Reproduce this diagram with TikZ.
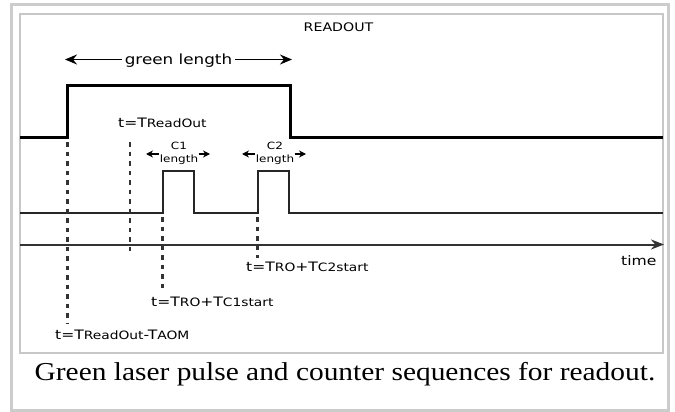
\documentclass[tikz,border=0pt]{standalone}
\usepackage{fontspec}
\setmainfont{Liberation Serif}
\newfontfamily\labfont[FakeStretch=1.2]{DejaVu Sans}
\newfontfamily\capfont[FakeStretch=1.14]{Liberation Serif}
\usetikzlibrary{arrows.meta}
\newcommand{\smtxt}[1]{{\fontsize{11.5}{12}\selectfont #1}}
\begin{document}
\begin{tikzpicture}[x=1pt,y=-1pt,
  outerframe/.style={draw=black!20, line width=3pt},
  innerframe/.style={draw=black!22, line width=2pt},
  laserline/.style={line width=3.8pt, line join=miter, draw=black},
  cntline/.style={line width=2pt, line join=miter, draw=black!85},
  axisline/.style={line width=2pt, draw=black!80, -{Stealth[length=13pt,width=10pt]}},
  guide/.style={draw=black!80, line width=2.2pt, dash pattern=on 4.5pt off 5pt},
  lab/.style={font=\labfont\fontsize{13}{14}\selectfont, inner sep=0pt, text=black},
  smalllab/.style={font=\labfont\fontsize{10}{11}\selectfont, inner sep=0pt, text=black},
  bigarrow/.style={line width=1.8pt, draw=black, -{Stealth[length=12pt,width=10pt]}},
  tinyarrow/.style={line width=1.5pt, draw=black, -{Stealth[length=7pt,width=7pt]}}
]
\useasboundingbox (0,0) rectangle (675,412);
% frames
\draw[outerframe] (11.5,4.5) rectangle (668.5,410.5);
\draw[innerframe] (20,14) rectangle (663,353);

% title
\node[lab, anchor=base, font=\labfont\fontsize{11.8}{12}\selectfont] (title) at (338.5,31.5) {READOUT};

% green laser pulse
\coordinate (gA) at (20,137.5);
\coordinate (gB) at (67.5,137.5);
\coordinate (gC) at (67.5,85.5);
\coordinate (gD) at (290.5,85.5);
\coordinate (gE) at (290.5,137.5);
\coordinate (gF) at (663,137.5);
\draw[laserline] (gA) -- (gB) -- (gC) -- (gD) -- (gE) -- (gF);

% green length
\node[lab, anchor=base, font=\labfont\fontsize{14}{15}\selectfont] (gl) at (178.5,64.5) {green length};
\coordinate (glL) at (65,59.5);
\coordinate (glR) at (292,59.5);
\draw[bigarrow] ([xshift=-3pt]gl.west |- glL) -- (glL);
\draw[bigarrow] ([xshift=3pt]gl.east |- glR) -- (glR);

% counter line
\coordinate (cA) at (20,213.3);
\coordinate (cB) at (162.5,213.3);
\coordinate (cC) at (162.5,171);
\coordinate (cD) at (193.5,171);
\coordinate (cE) at (193.5,213.3);
\coordinate (cF) at (257.5,213.3);
\coordinate (cG) at (257.5,171);
\coordinate (cH) at (288.5,171);
\coordinate (cI) at (288.5,213.3);
\coordinate (cJ) at (663,213.3);
\draw[cntline] (cA) -- (cB) -- (cC) -- (cD) -- (cE) -- (cF) -- (cG) -- (cH) -- (cI) -- (cJ);

% C1 / C2 length labels
\node[smalllab, anchor=base] (c1) at (179,149) {C1};
\node[smalllab, anchor=base] (c1l) at (179,162) {length};
\coordinate (c1L) at (146,154);
\coordinate (c1R) at (210,154);
\draw[tinyarrow] ([xshift=-0.5pt]c1l.west |- c1L) -- (c1L);
\draw[tinyarrow] ([xshift=0.5pt]c1l.east |- c1R) -- (c1R);
\node[smalllab, anchor=base] (c2) at (275,149) {C2};
\node[smalllab, anchor=base] (c2l) at (275,162) {length};
\coordinate (c2L) at (242,154);
\coordinate (c2R) at (306,154);
\draw[tinyarrow] ([xshift=-0.5pt]c2l.west |- c2L) -- (c2L);
\draw[tinyarrow] ([xshift=0.5pt]c2l.east |- c2R) -- (c2R);

% time axis
\coordinate (tA) at (20,244.5);
\coordinate (tB) at (664,244.5);
\draw[axisline] (tA) -- (tB);
\node[lab, anchor=base west] (time) at (621,265) {time};

% dashed guides
\coordinate (d1t) at (67.5,142);
\coordinate (d1b) at (67.5,323);
\coordinate (d2t) at (130,142);
\coordinate (d2b) at (130,252);
\coordinate (d3t) at (162.5,217);
\coordinate (d3b) at (162.5,293);
\coordinate (d4t) at (257.5,217);
\coordinate (d4b) at (257.5,258);
\draw[guide] (d1t) -- (d1b);
\draw[guide] (d2t) -- (d2b);
\draw[guide] (d3t) -- (d3b);
\draw[guide] (d4t) -- (d4b);

% time labels
\node[lab, anchor=base west] (tro) at (118,127) {t=T\smtxt{ReadOut}};
\node[lab, anchor=base west] (tc1) at (151,306.5) {t=T\smtxt{RO}+T\smtxt{C1start}};
\node[lab, anchor=base west] (tc2) at (246,271.5) {t=T\smtxt{RO}+T\smtxt{C2start}};
\node[lab, anchor=base west] (taom) at (55,339) {t=T\smtxt{ReadOut}-T\smtxt{AOM}};

% caption
\node[anchor=base, inner sep=0pt, font=\capfont\fontsize{25.8}{28}\selectfont] (cap) at (345,380) {Green laser pulse and counter sequences for readout.};
\end{tikzpicture}
\end{document}
